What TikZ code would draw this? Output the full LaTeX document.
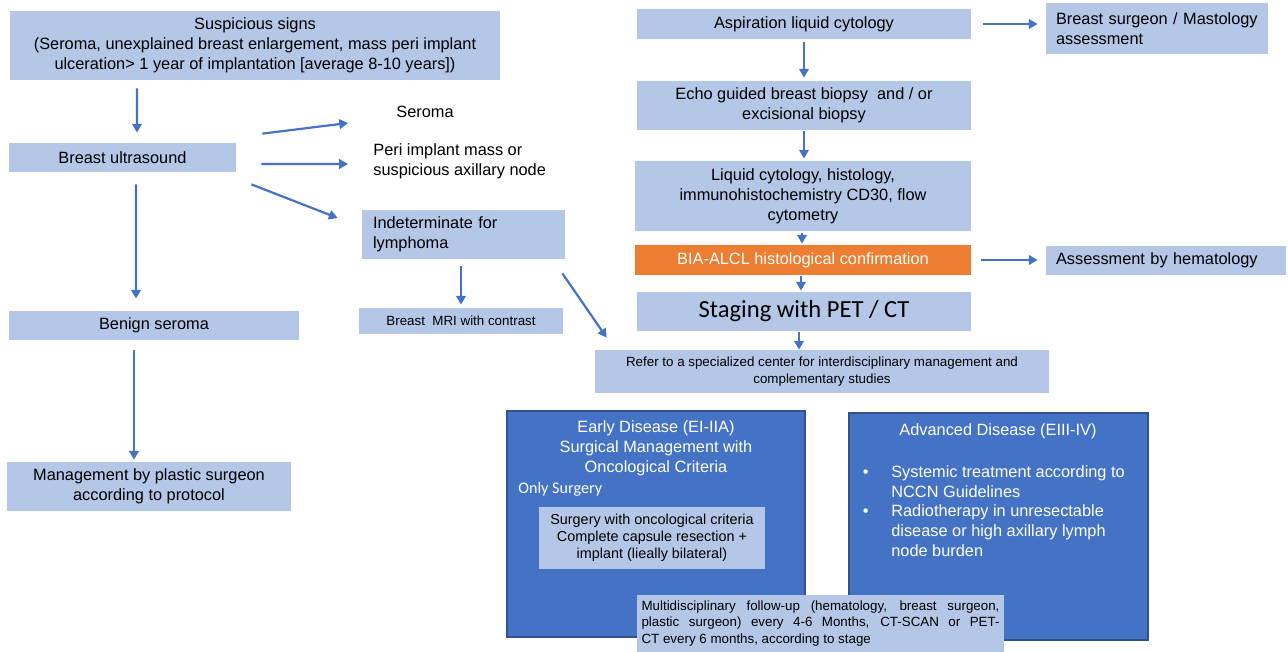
\documentclass[tikz,border=0pt]{standalone}
\usepackage{fontspec}
\setmainfont{Liberation Sans}
\newfontfamily\calibri{Carlito}
\usepackage{tikz}
\usetikzlibrary{positioning, arrows.meta, calc}
\definecolor{lightbox}{HTML}{B4C7E7}
\definecolor{darkbox}{HTML}{4472C4}
\definecolor{darkline}{HTML}{2F528F}
\definecolor{orangebox}{HTML}{ED7D31}
\newcommand{\fmain}{\fontsize{9.3}{11.3}\selectfont}
\newcommand{\fsmall}{\fontsize{7.6}{9.4}\selectfont}
\newcommand{\fcrit}{\fontsize{8.2}{9.6}\selectfont}
\tikzset{%
	>={Triangle[length=5pt, width=5.4pt]},
	every edge/.append style={draw=darkbox, line width=1.25pt},
	box/.style = {fill=lightbox, inner sep=0pt, align=center, font=\fmain, text=black},
	txt/.style = {inner sep=0pt, align=left, font=\fmain},
	stage/.style = {fill=darkbox, draw=darkline, line width=1.2pt, inner sep=0pt},
	wtxt/.style = {inner sep=0pt, align=center, font=\fmain, text=white},
	sz/.style 2 args = {minimum width=#1*0.02cm, minimum height=#2*0.02cm}
}

\begin{document}
\begin{tikzpicture}[x=0.02cm, y=-0.02cm]
		\useasboundingbox (0,0) rectangle (1288,652);
		\node [box, sz={490}{69}] (signs) at (255,45.5) {Suspicious signs\\(Seroma, unexplained breast enlargement, mass peri implant\\ulceration> 1 year of implantation [average 8-10 years])};
		\node [box, sz={227}{29}] (ultra) at (122.5,157.5) {Breast ultrasound};
		\node [box, sz={290}{29}] (benign) at (154,325.5) {Benign seroma};
		\node [box, sz={284}{49}] (plastic) at (149,486.5) {Management by plastic surgeon\\according to protocol};
		\node [txt] (seroma) at (425,112) {Seroma};
		\node [txt, anchor=west] (mass) at (373,161) {Peri implant mass or\\suspicious axillary node};
		\node [box, sz={203}{49}, text width=3.62cm, inner xsep=0.22cm, align=left] (indet) at (463.5,234.5) {Indeterminate for\\lymphoma};
		\node [box, sz={204}{26}, font=\fsmall] (mri) at (461,321) {Breast\ \ MRI with contrast};
		\node [box, sz={334}{30}] (aspir) at (804,24) {Aspiration liquid cytology};
		\node [box, sz={222}{51}, text width=4.04cm, inner xsep=0.2cm, align=left] (mastol) at (1157,28.5) {Breast surgeon / Mastology\\assessment};
		\node [box, sz={334}{49}] (biopsy) at (804,105.5) {Echo guided breast biopsy\ \ and / or\\excisional biopsy};
		\node [box, sz={336}{70}] (cyto) at (803,196) {Liquid cytology, histology,\\immunohistochemistry CD30, flow\\cytometry};
		\node [box, sz={336}{30}, fill=orangebox, text=white] (alcl) at (803,260) {BIA-ALCL histological confirmation};
		\node [box, sz={240}{29}, text width=4.4cm, inner xsep=0.2cm, align=left] (hemat) at (1166,260.5) {Assessment by hematology};
		\node [box, sz={334}{39}, font=\calibri\fontsize{14}{16}\selectfont] (staging) at (804,311.5) {Staging with PET / CT};
		\node [box, sz={454}{43}, font=\fsmall] (refer) at (822,371.5) {Refer to a specialized center for interdisciplinary management and\\complementary studies};
		\node [stage, sz={298}{226}] (early) at (656,524) {};
		\node [wtxt] (earlyt) at (656,448) {Early Disease (EI-IIA)\\Surgical Management with\\Oncological Criteria};
		\node [wtxt, anchor=west, font=\calibri\fontsize{9.2}{11}\selectfont] (only) at (518,489) {Only Surgery};
		\node [box, sz={226}{62}, font=\fcrit] (surgery) at (652,538) {Surgery with oncological criteria\\Complete capsule resection +\\implant (lieally bilateral)};
		\node [stage, sz={299}{227}] (adv) at (998.5,526.5) {};
		\node [wtxt] (advt) at (998,431) {Advanced Disease (EIII-IV)};
		\node [wtxt, align=left, anchor=north west] (advl) at (891,465) {\llap{\textbullet\hspace{13pt}}Systemic treatment according to\\NCCN Guidelines\\\llap{\textbullet\hspace{13pt}}Radiotherapy in unresectable\\disease or high axillary lymph\\node burden};
		\node [box, sz={367}{57}, font=\fsmall, text width=7.16cm, align=justify] (follow) at (820.5,623.5) {Multidisciplinary follow-up (hematology, breast surgeon,\linebreak plastic surgeon) every 4-6 Months, CT-SCAN or PET-\linebreak CT every 6 months, according to stage};
		\path [->] ([shift={(-118,8)}]signs.south) edge ([shift={(14.5,-10)}]ultra.north);
		\path [->] ([shift={(26,-9)}]ultra.north east) edge ([shift={(-48,11)}]seroma.west);
		\path [->] ([shift={(25,6.5)}]ultra.east) edge ([shift={(-25,3)}]mass.west);
		\path [->] ([shift={(15,12)}]ultra.south east) edge ([shift={(-24,-16.5)}]indet.west);
		\path [->] ([shift={(13.5,12)}]ultra.south) edge ([shift={(-18,-12)}]benign.north);
		\path [->] ([shift={(-20,10)}]benign.south) edge ([shift={(-15,-2)}]plastic.north);
		\path [->] ([shift={(-2.5,7)}]indet.south) edge ([shift={(0,-3)}]mri.north);
		\path [->] ([shift={(-3,14)}]indet.south east) edge ([shift={(12,-12)}]refer.north west);
		\path [->] ([shift={(0,3)}]aspir.south) edge ([shift={(0,-3)}]biopsy.north);
		\path [->] ([shift={(12,0)}]aspir.east) edge ([shift={(-8,-4.5)}]mastol.west);
		\path [->] ([shift={(0,1)}]biopsy.south) edge ([shift={(1,-2)}]cyto.north);
		\path [->] ([shift={(-1,2)}]cyto.south) edge ([shift={(-1,-1)}]alcl.north);
		\path [->] ([shift={(10,0)}]alcl.east) edge ([shift={(-8,-0.5)}]hemat.west);
		\path [->] ([shift={(-2,1)}]alcl.south) edge ([shift={(-3,-1)}]staging.north);
		\path [->] ([shift={(-5,1)}]staging.south) edge ([shift={(-23,0)}]refer.north);
		\end{tikzpicture}
\end{document}
